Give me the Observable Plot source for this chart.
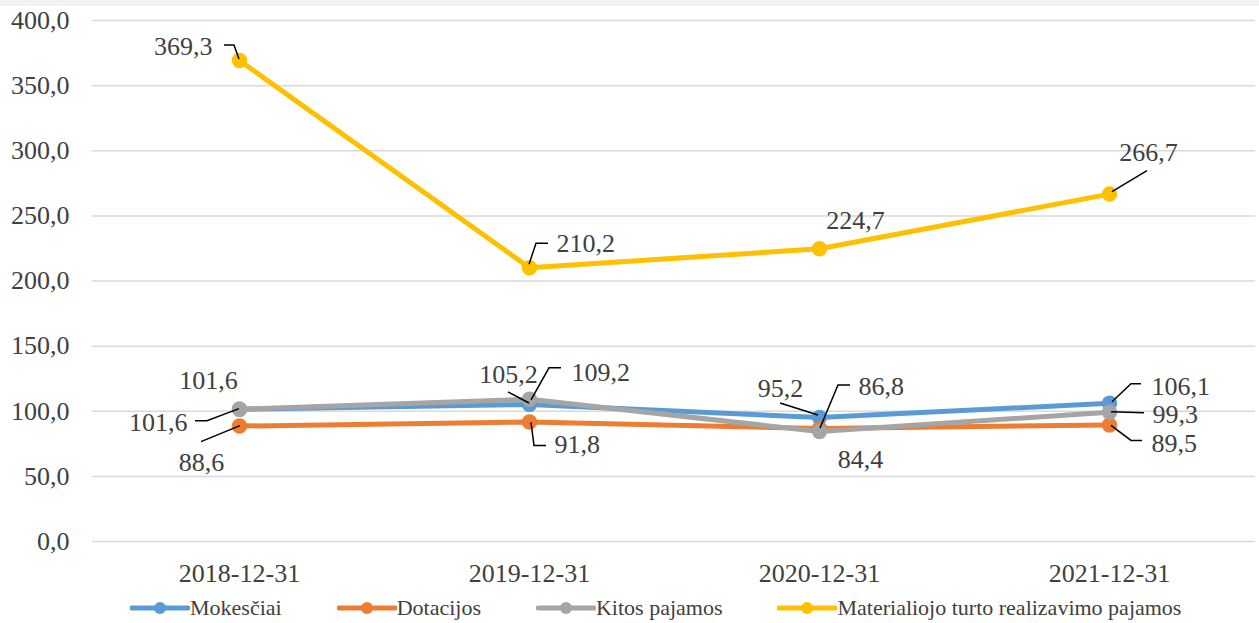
<!DOCTYPE html>
<html>
<head>
<meta charset="utf-8">
<script src="https://cdn.jsdelivr.net/npm/d3@7"></script>
<script src="https://cdn.jsdelivr.net/npm/@observablehq/plot@0.6"></script>
<style>
  html, body { margin: 0; padding: 0; background: #fff; }
  body { width: 1259px; height: 623px; position: relative; overflow: hidden; font-family: "Liberation Serif", "Times New Roman", Tinos, "DejaVu Serif", serif; }
  #strip { position: absolute; left: 0; top: 0; width: 1259px; height: 6px; background: #f2f2f2; }
  #chart { position: absolute; left: 0; top: 0; }
  #legend { position: absolute; left: 130px; top: 593px; height: 30px; display: flex; align-items: center; font-size: 22px; color: #404040; white-space: nowrap; }
  .item { display: flex; align-items: center; margin-right: 55px; }
  .item svg { display: block; }
  #chart svg, #chart svg text { font-family: "Liberation Serif", "Times New Roman", Tinos, "DejaVu Serif", serif !important; }
</style>
</head>
<body>
<div id="strip"></div>
<div id="chart"></div>
<div id="legend"></div>
<script>
// ---- data ----
const years = ["2018-12-31", "2019-12-31", "2020-12-31", "2021-12-31"];
const mokesciai = [101.6, 105.2, 95.2, 106.1];
const dotacijos = [88.6, 91.8, 86.8, 89.5];
const kitos = [101.6, 109.2, 84.4, 99.3];
const materialiojo = [369.3, 210.2, 224.7, 266.7];
const seriesNames = ["Mokesčiai", "Dotacijos", "Kitos pajamos", "Materialiojo turto realizavimo pajamos"];
const seriesColors = ["#5B9BD5", "#ED7D31", "#A5A5A5", "#FFC000"];
const yTicks = [0, 50, 100, 150, 200, 250, 300, 350, 400];

const seriesValues = [mokesciai, dotacijos, kitos, materialiojo];
const fmt = v => v.toFixed(1).replace(".", ",");

const rows = [];
seriesValues.forEach((vals, s) => vals.forEach((v, i) => rows.push({series: seriesNames[s], s, year: years[i], value: v})));

// label placement (pixel offsets from the point, leader polylines)
const labelPlacement = [
  {s: 3, i: 0, anchor: "end",    dx: -27, dy: -14, leader: [[-15,-15],[-5,-15],[0,-1]]},
  {s: 3, i: 1, anchor: "start",  dx: 27,  dy: -24, leader: [[0,-3],[7,-24],[19,-24]]},
  {s: 3, i: 2, anchor: "middle", dx: 36,  dy: -28, leader: null},
  {s: 3, i: 3, anchor: "middle", dx: 39,  dy: -41, leader: [[3,-2],[38,-23]]},
  {s: 2, i: 0, anchor: "middle", dx: -31, dy: -28, leader: null},
  {s: 0, i: 0, anchor: "end",    dx: -52, dy: 14,  leader: [[-44,12],[-32,12],[0,0]]},
  {s: 1, i: 0, anchor: "middle", dx: -38, dy: 37,  leader: [[-38,16],[1,0]]},
  {s: 0, i: 1, anchor: "middle", dx: -21, dy: -30, leader: [[-21,-12],[0,-1]]},
  {s: 2, i: 1, anchor: "start",  dx: 42,  dy: -27, leader: [[2,1],[20,-31],[32,-31]]},
  {s: 1, i: 1, anchor: "start",  dx: 25,  dy: 23,  leader: [[2,1],[5,24],[17,24]]},
  {s: 0, i: 2, anchor: "middle", dx: -39, dy: -29, leader: [[-39,-14],[-1,-2]]},
  {s: 1, i: 2, anchor: "start",  dx: 39,  dy: -42, leader: [[1,0],[19,-43],[31,-43]]},
  {s: 2, i: 2, anchor: "middle", dx: 41,  dy: 28,  leader: null},
  {s: 0, i: 3, anchor: "start",  dx: 42,  dy: -17, leader: [[3,-1],[22,-19],[32,-19]]},
  {s: 2, i: 3, anchor: "start",  dx: 43,  dy: 3,   leader: [[2,0],[35,1]]},
  {s: 1, i: 3, anchor: "start",  dx: 42,  dy: 19,  leader: [[2,1],[22,16],[33,16]]}
];

const marks = [
  Plot.gridY(yTicks, {stroke: "#d9d9d9", strokeOpacity: 1, strokeWidth: 1.5}),
  Plot.axisY(yTicks, {tickSize: 0, tickPadding: 23, tickFormat: fmt, fill: "#404040"}),
  Plot.axisX({tickSize: 0, tickPadding: 22, fill: "#404040"})
];
seriesNames.forEach((name, s) => {
  const d = rows.filter(r => r.s === s);
  marks.push(Plot.line(d, {x: "year", y: "value", stroke: seriesColors[s], strokeWidth: 5, strokeLinejoin: "round", strokeLinecap: "round"}));
  marks.push(Plot.dot(d, {x: "year", y: "value", r: 7, fill: seriesColors[s], stroke: seriesColors[s]}));
});
labelPlacement.forEach(p => {
  const d = [{year: years[p.i], value: seriesValues[p.s][p.i]}];
  marks.push(Plot.text(d, {x: "year", y: "value", text: r => fmt(r.value), dx: p.dx, dy: p.dy, textAnchor: p.anchor, fill: "#404040"}));
});

const chart = Plot.plot({
  width: 1259,
  height: 592,
  marginLeft: 92,
  marginRight: 4,
  marginTop: 20,
  marginBottom: 51,
  style: {fontFamily: "'Liberation Serif', 'Times New Roman', Tinos, 'DejaVu Serif', serif", fontSize: "26px", background: "transparent", color: "#404040"},
  x: {type: "point", domain: years, padding: 0.5, label: null},
  y: {domain: [0, 400], label: null},
  marks
});
document.getElementById("chart").appendChild(chart);

// leader lines through the plot's own scales
const xs = chart.scale("x"), ys = chart.scale("y");
const svg = d3.select(chart);
const g = svg.append("g").attr("fill", "none").attr("stroke", "#000").attr("stroke-width", 1.5);
labelPlacement.filter(p => p.leader).forEach(p => {
  const px = xs.apply(years[p.i]), py = ys.apply(seriesValues[p.s][p.i]);
  g.append("path").attr("d", d3.line()(p.leader.map(([a, b]) => [px + a, py + b])));
});

// legend
const legend = document.getElementById("legend");
seriesNames.forEach((name, s) => {
  const item = document.createElement("div");
  item.className = "item";
  item.innerHTML = `<svg width="60" height="16"><line x1="2" y1="8" x2="58" y2="8" stroke="${seriesColors[s]}" stroke-width="5" stroke-linecap="round"/><circle cx="30" cy="8" r="6" fill="${seriesColors[s]}"/></svg><span>${name}</span>`;
  legend.appendChild(item);
});
</script>
</body>
</html>
